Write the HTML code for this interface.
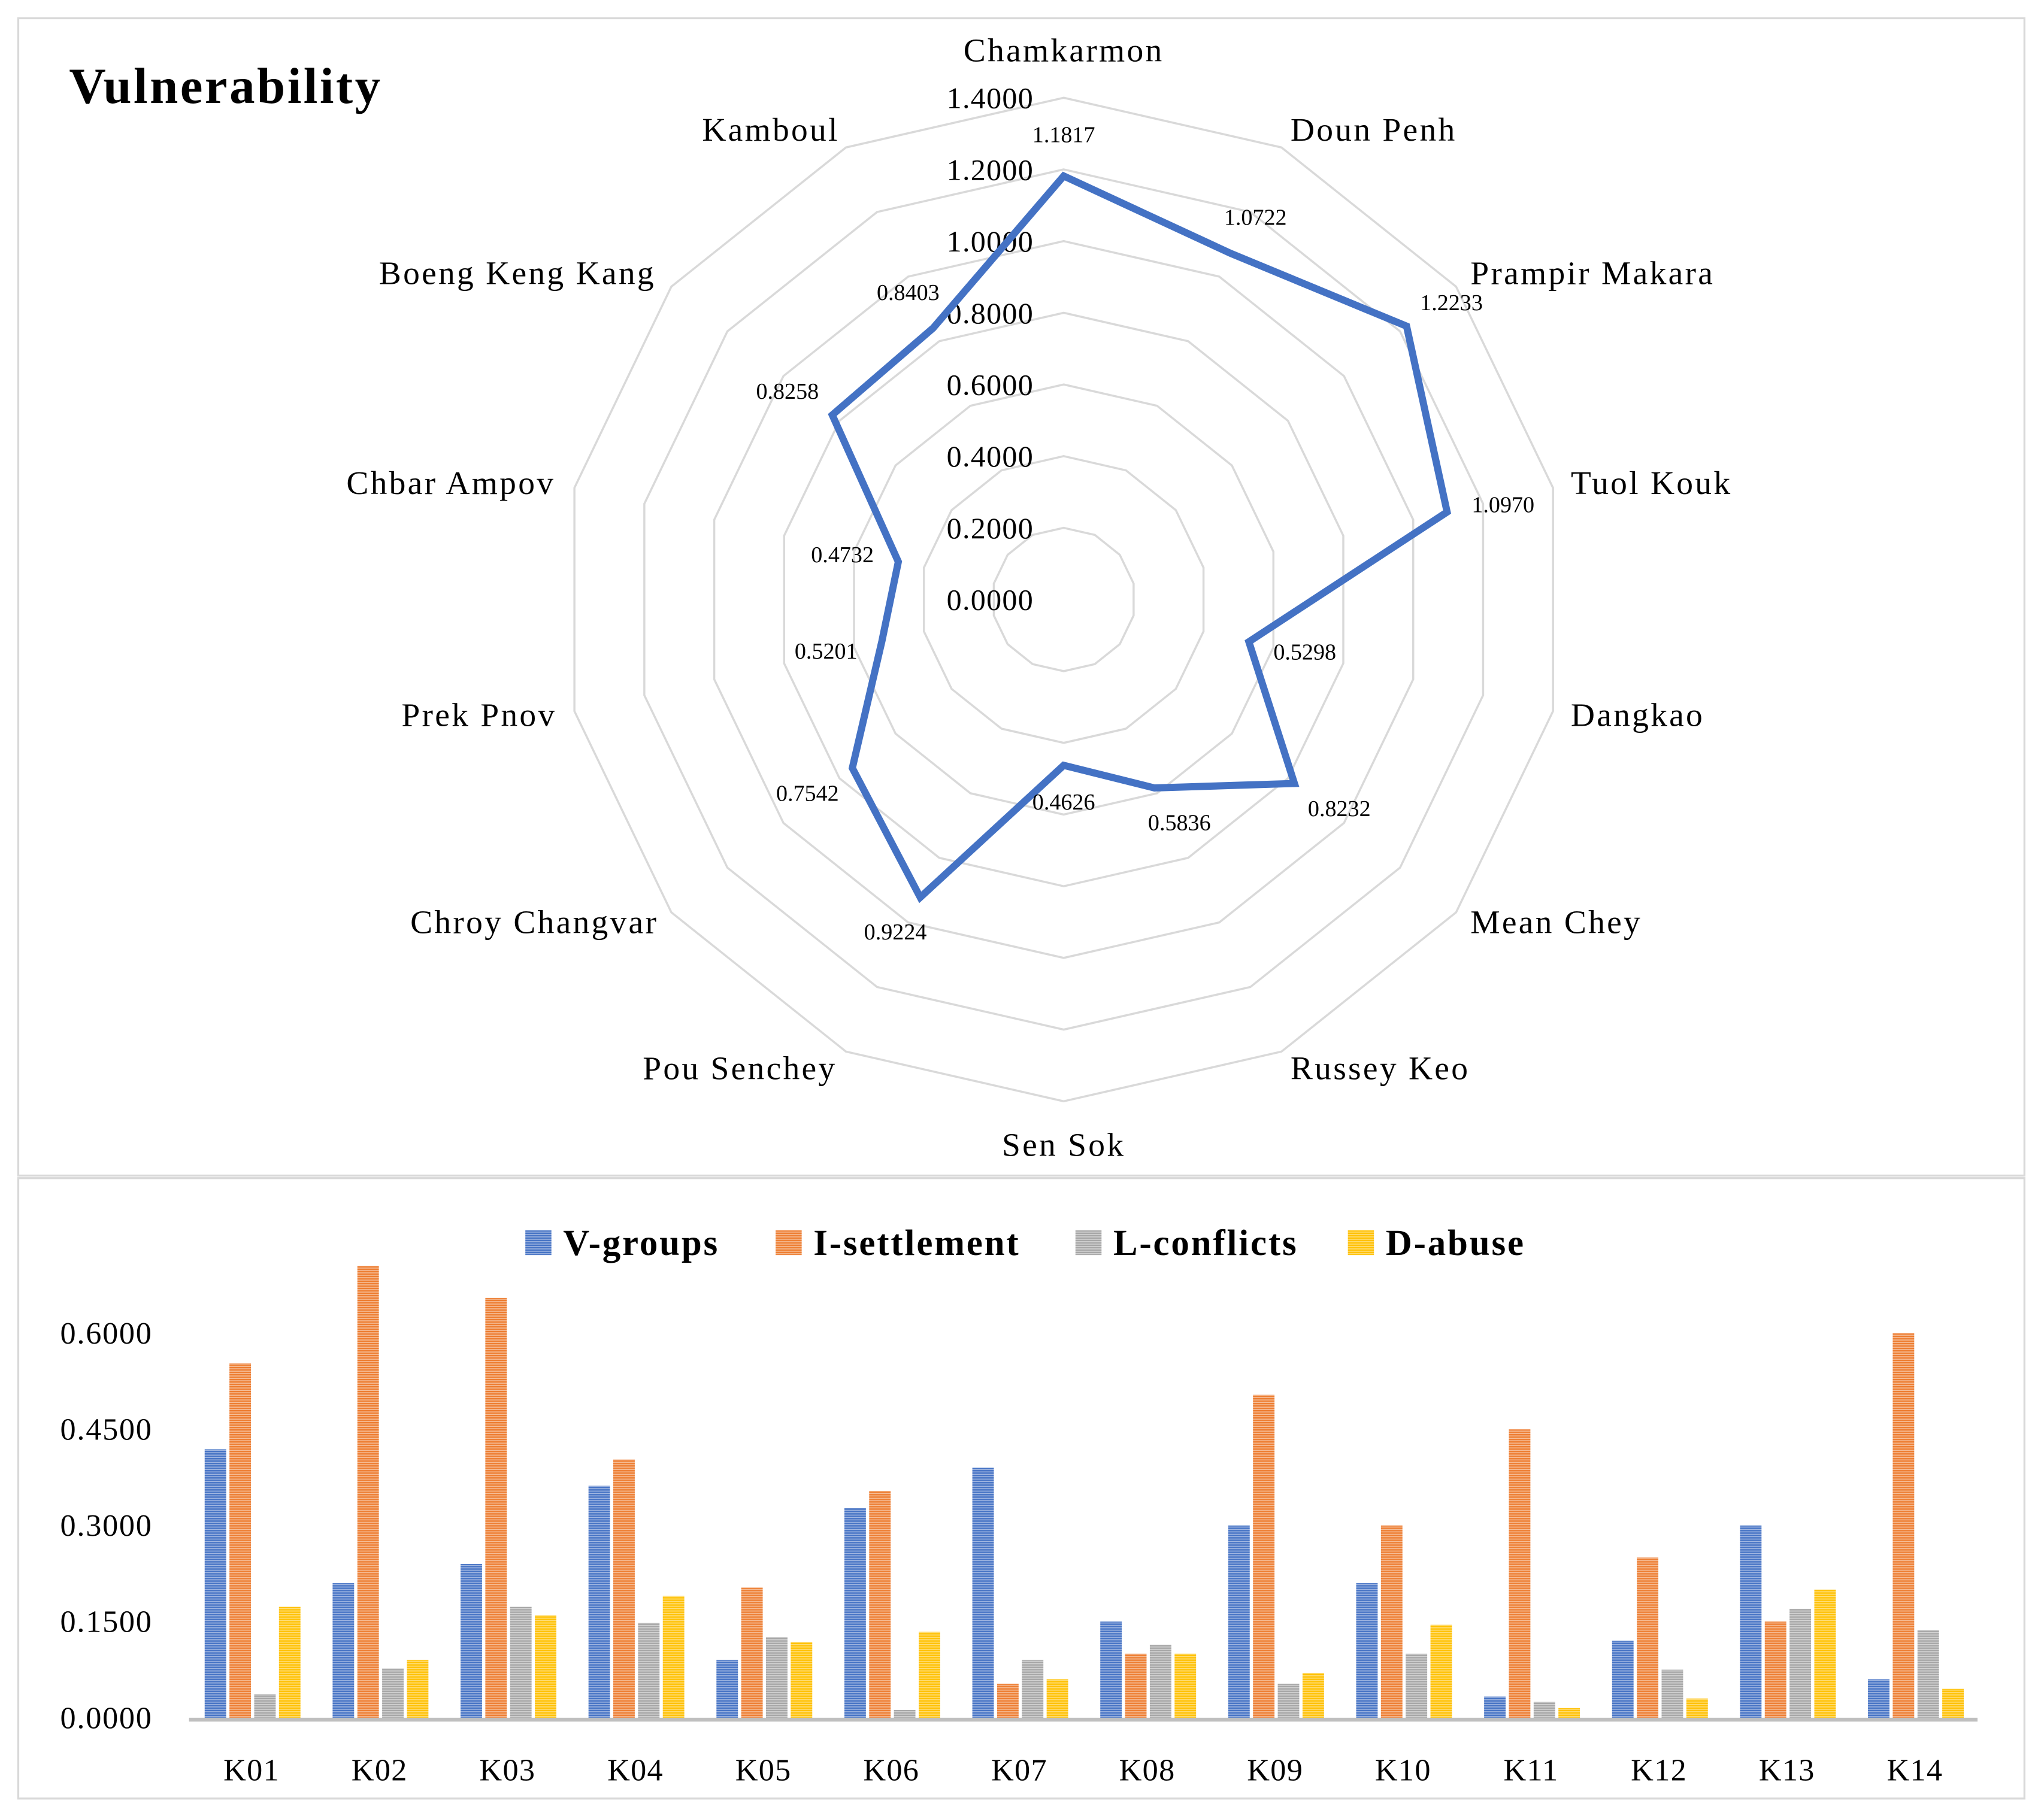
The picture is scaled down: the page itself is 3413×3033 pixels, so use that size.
<!DOCTYPE html>
<html><head><meta charset="utf-8"><style>
html,body{margin:0;padding:0;background:#fff}
svg{display:block}
text{font-family:"Liberation Serif",serif;fill:#000}
</style></head><body>
<svg id="chart" width="3413" height="3033" viewBox="0 0 1568 1393.4" preserveAspectRatio="none" xmlns="http://www.w3.org/2000/svg">
<defs>
<pattern id="pV" width="10" height="1.84" patternUnits="userSpaceOnUse"><rect width="10" height="1.84" fill="#a3b8e2"/><rect width="10" height="1.1" fill="#4472C4"/></pattern>
<pattern id="pI" width="10" height="1.84" patternUnits="userSpaceOnUse"><rect width="10" height="1.84" fill="#f6be98"/><rect width="10" height="1.1" fill="#ED7D31"/></pattern>
<pattern id="pL" width="10" height="1.84" patternUnits="userSpaceOnUse"><rect width="10" height="1.84" fill="#d6d6d6"/><rect width="10" height="1.1" fill="#A5A5A5"/></pattern>
<pattern id="pD" width="10" height="1.84" patternUnits="userSpaceOnUse"><rect width="10" height="1.84" fill="#ffe080"/><rect width="10" height="1.1" fill="#FFC000"/></pattern>
</defs>
<rect x="14" y="14" width="1539" height="888" fill="#fff" stroke="#d9d9d9" stroke-width="1.5"/>
<rect x="14" y="904" width="1539" height="476" fill="#fff" stroke="#d9d9d9" stroke-width="1.5"/>
<text x="53" y="79" font-size="39" font-weight="bold" letter-spacing="1.6">Vulnerability</text>
<g id="radar"></g>
<g id="bars"></g>
</svg>
<script>
const districts = ["Chamkarmon","Doun Penh","Prampir Makara","Tuol Kouk","Dangkao","Mean Chey","Russey Keo","Sen Sok","Pou Senchey","Chroy Changvar","Prek Pnov","Chbar Ampov","Boeng Keng Kang","Kamboul"];
const vulnValues = [1.1817,1.0722,1.2233,1.0970,0.5298,0.8232,0.5836,0.4626,0.9224,0.7542,0.5201,0.4732,0.8258,0.8403];
const radarTicks = [0,0.2,0.4,0.6,0.8,1.0,1.2,1.4];

const categories = ["K01","K02","K03","K04","K05","K06","K07","K08","K09","K10","K11","K12","K13","K14"];
const vGroups = [0.419,0.21,0.24,0.362,0.09,0.327,0.39,0.15,0.30,0.21,0.033,0.12,0.30,0.06];
const iSettlement = [0.553,0.705,0.655,0.403,0.203,0.354,0.053,0.10,0.504,0.30,0.45,0.25,0.15,0.60];
const lConflicts = [0.037,0.077,0.173,0.148,0.126,0.012,0.09,0.114,0.053,0.10,0.025,0.075,0.17,0.137];
const dAbuse = [0.173,0.09,0.16,0.19,0.118,0.134,0.06,0.10,0.07,0.145,0.015,0.03,0.20,0.045];
const barTicks = [0,0.15,0.30,0.45,0.60];

const NS="http://www.w3.org/2000/svg";
function mk(tag, attrs, parent){const e=document.createElementNS(NS,tag);for(const k in attrs)e.setAttribute(k,attrs[k]);parent.appendChild(e);return e;}

const radar=document.getElementById('radar');
const cx=816, cy=460, R=385, rMax=1.4, N=districts.length;
function rad(v){return v/rMax*R;}
function pt(i,v){const a=i*2*Math.PI/N;return [cx+Math.sin(a)*rad(v), cy-Math.cos(a)*rad(v)];}
radarTicks.forEach(t=>{
  if(t===0) return;
  const pts=[];for(let i=0;i<N;i++)pts.push(pt(i,t).join(','));
  const g=mk('polygon',{points:pts.join(' '),fill:'none',stroke:'#d9d9d9','stroke-width':1.6},radar);
  
  
});
radarTicks.forEach(t=>{
  const tx=mk('text',{x:cx-23,y:cy-rad(t)+8,'font-size':23,'text-anchor':'end','letter-spacing':0.6},radar);
  tx.textContent=t.toFixed(4);
  
  
});
const labelPos=[[816,47,'middle'],[990,108,'start'],[1128,218,'start'],[1205,379,'start'],[1205,557,'start'],[1128,716,'start'],[990,828,'start'],[816,887,'middle'],[642,828,'end'],[505,716,'end'],[427,557,'end'],[426,379,'end'],[503,218,'end'],[644,108,'end']];
districts.forEach((d,i)=>{
  const tx=mk('text',{x:labelPos[i][0],y:labelPos[i][1],'font-size':25.5,'text-anchor':labelPos[i][2],'letter-spacing':1.5},radar);
  tx.textContent=d;
  
  
});
const pp=vulnValues.map((v,i)=>pt(i,v).join(',')).join(' ');
const poly=mk('polygon',{points:pp,fill:'none',stroke:'#4472C4','stroke-width':5.5,'stroke-linejoin':'miter'},radar);


vulnValues.forEach((v,i)=>{
  const a=i*2*Math.PI/N;
  const rr=rad(v)+30;
  const x=cx+Math.sin(a)*rr+Math.sin(a)*14, y=cy-Math.cos(a)*rr+4+Math.abs(Math.sin(a))*3;
  const tx=mk('text',{x:x,y:y,'font-size':17.5,'text-anchor':'middle'},radar);
  tx.textContent=v.toFixed(4);
  
  
});

const bars=document.getElementById('bars');
const y0=1318, pxPerUnit=491.7, x0=145, x1=1517;
function ys(v){return y0-v*pxPerUnit;}
function xc(i){return 193+i*98.15;}
barTicks.forEach(t=>{
  const tx=mk('text',{x:117,y:ys(t)+8,'font-size':24,'text-anchor':'end','letter-spacing':0.8},bars);
  tx.textContent=t.toFixed(4);
  
  
});
const series=[[vGroups,'pV','V-groups'],[iSettlement,'pI','I-settlement'],[lConflicts,'pL','L-conflicts'],[dAbuse,'pD','D-abuse']];
categories.forEach((c,i)=>{
  series.forEach((s,j)=>{
    const v=s[0][i];
    const r=mk('rect',{x:xc(i)-36+j*19,y:ys(v),width:16.5,height:v*pxPerUnit,fill:'url(#'+s[1]+')'},bars);
    
    
  });
  const tx=mk('text',{x:xc(i),y:1366,'font-size':24,'text-anchor':'middle','letter-spacing':0.6},bars);
  tx.textContent=c;
  
  
});
const ax=mk('line',{x1:x0,x2:x1,y1:y0+1.5,y2:y0+1.5,stroke:'#bfbfbf','stroke-width':3},bars);


const legX=[403,595,825,1034];
series.forEach((s,j)=>{
  const sw=mk('rect',{x:legX[j],y:944,width:20,height:19,fill:'url(#'+s[1]+')'},bars);
  
  
  const tx=mk('text',{x:legX[j]+29,y:963,'font-size':28,'font-weight':'bold','letter-spacing':1.3},bars);
  tx.textContent=s[2];
  
  
});
</script>
</body></html>
